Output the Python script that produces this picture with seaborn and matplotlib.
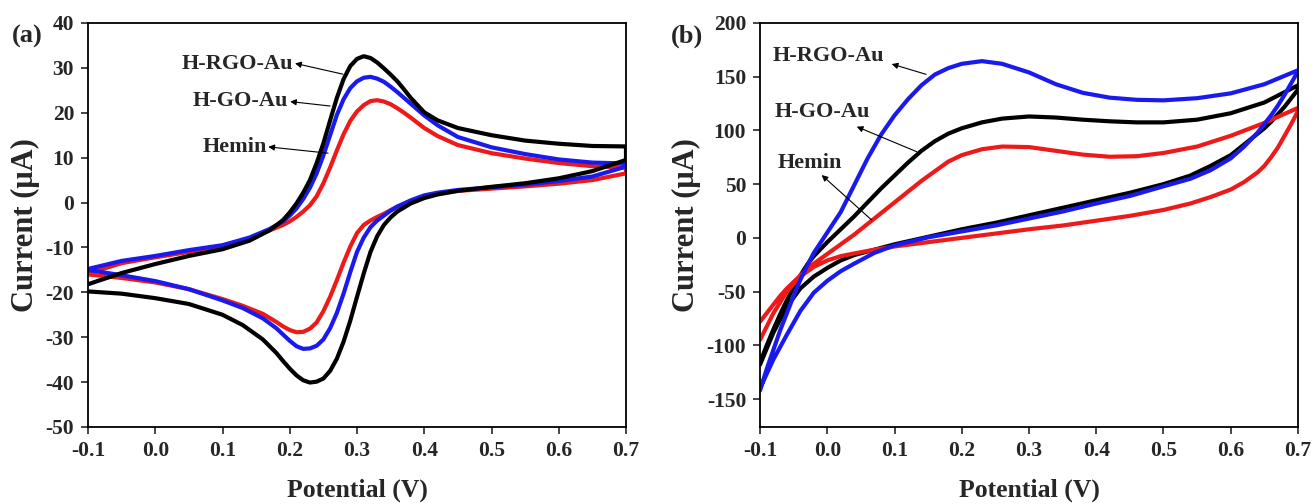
import matplotlib
matplotlib.use("Agg")
import matplotlib.pyplot as plt
import seaborn as sns
import pandas as pd

# ---- panel (a): CV of the probe, forward (anodic) and reverse scans ----
a_fwd_pot = [-0.10, -0.05, 0.00, 0.05, 0.10, 0.14, 0.17, 0.19, 0.20, 0.21, 0.22, 0.23, 0.24, 0.25,
             0.26, 0.27, 0.28, 0.29, 0.30, 0.31, 0.32, 0.33, 0.34, 0.35, 0.36, 0.37, 0.38, 0.40,
             0.42, 0.45, 0.50, 0.55, 0.60, 0.65, 0.70]
a_fwd_rgo = [-18.2, -15.7, -13.7, -11.9, -10.4, -8.5, -6.2, -3.9, -2.2, -0.2, 2.2, 5.0, 8.8, 13.2,
             18.3, 23.3, 27.5, 30.4, 32.0, 32.6, 32.2, 31.2, 29.9, 28.5, 27.0, 25.2, 23.3, 20.1,
             18.3, 16.6, 15.0, 13.8, 13.1, 12.6, 12.5]
a_fwd_go = [-14.8, -13.0, -11.9, -10.6, -9.5, -7.8, -5.9, -4.2, -2.9, -1.3, 0.8, 3.3, 6.5, 10.5,
            15.0, 19.5, 23.0, 25.5, 27.0, 27.8, 28.0, 27.6, 26.9, 25.8, 24.6, 23.3, 22.0, 19.4,
            17.2, 14.6, 12.3, 10.8, 9.6, 8.9, 8.7]
a_fwd_hemin = [-15.8, -13.5, -12.2, -11.0, -10.0, -8.0, -6.2, -5.0, -4.2, -3.2, -2.0, -0.6, 1.4, 4.3,
               7.8, 11.6, 15.2, 18.2, 20.3, 21.7, 22.6, 22.8, 22.5, 21.9, 21.0, 20.0, 18.9, 16.6,
               14.8, 12.8, 11.0, 9.8, 8.8, 8.1, 7.8]

a_rev_pot = [0.70, 0.65, 0.60, 0.55, 0.50, 0.45, 0.42, 0.40, 0.38, 0.36, 0.35, 0.34, 0.33, 0.32,
             0.31, 0.30, 0.29, 0.28, 0.27, 0.26, 0.25, 0.24, 0.23, 0.22, 0.21, 0.20, 0.19, 0.18,
             0.16, 0.13, 0.10, 0.05, 0.00, -0.05, -0.10]
a_rev_rgo = [9.5, 7.0, 5.4, 4.3, 3.5, 2.6, 1.8, 1.0, -0.2, -2.0, -3.3, -5.0, -7.5, -11.0,
             -15.8, -21.0, -26.3, -31.0, -34.8, -37.5, -39.2, -39.9, -40.1, -39.6, -38.5, -37.0, -35.3, -33.5,
             -30.5, -27.3, -25.0, -22.6, -21.3, -20.3, -19.8]
a_rev_go = [8.0, 5.8, 4.8, 4.0, 3.4, 2.8, 2.2, 1.6, 0.5, -0.9, -1.8, -2.9, -4.0, -5.5,
            -7.8, -11.0, -15.5, -20.3, -24.6, -28.0, -30.5, -31.9, -32.5, -32.6, -32.0, -30.8, -29.4, -28.0,
            -25.8, -23.5, -21.8, -19.3, -17.5, -16.2, -15.0]
a_rev_hemin = [6.5, 5.0, 4.2, 3.6, 3.1, 2.6, 2.0, 1.4, 0.3, -0.9, -1.7, -2.5, -3.2, -4.0,
               -5.0, -6.8, -9.8, -13.4, -17.3, -21.0, -24.2, -26.7, -28.1, -28.8, -28.9, -28.4, -27.6, -26.6,
               -24.8, -23.0, -21.5, -19.3, -17.8, -16.8, -16.0]

# ---- panel (b) ----
b_fwd_pot = [-0.10, -0.09, -0.08, -0.07, -0.06, -0.05, -0.04, -0.03, -0.02, 0.00, 0.02, 0.04,
             0.06, 0.08, 0.10, 0.12, 0.14, 0.16, 0.18, 0.20, 0.23, 0.26, 0.30, 0.34, 0.38, 0.42,
             0.46, 0.50, 0.55, 0.60, 0.65, 0.70]
b_fwd_rgo = [-142, -122, -104, -86, -70, -54, -39, -26, -14, 5, 24, 49,
             74, 96, 114, 129, 142, 152, 158, 162, 164.5, 162, 154, 143, 135, 130.5,
             128.5, 128, 130, 134.5, 143, 156]
b_fwd_go = [-116, -100, -85, -71, -58, -46, -35, -25, -17, -4, 8, 20,
            33, 46, 58, 70, 81, 90, 97, 102, 107.5, 111, 113, 112, 110, 108.5,
            107.5, 107.5, 110, 116, 126, 142]
b_fwd_hemin = [-78, -70, -62, -54, -47, -41, -35, -29, -24, -15, -6, 3,
               13, 23, 33, 43, 53, 62, 71, 77, 82.5, 85, 84.5, 81, 77.5, 75.5,
               76, 79, 85, 95, 107, 121]

b_rev_pot = [0.70, 0.69, 0.68, 0.67, 0.66, 0.65, 0.64, 0.62, 0.60, 0.57, 0.54, 0.50, 0.45, 0.40,
             0.35, 0.30, 0.25, 0.20, 0.15, 0.10, 0.07, 0.04, 0.02, 0.00, -0.02, -0.04, -0.06, -0.08, -0.10]
b_rev_rgo = [155, 144, 133, 123, 114, 106, 98, 85, 74, 63, 55, 48, 39, 32,
             24.5, 18, 11.5, 6, 0.5, -7, -14, -24, -31, -40, -51, -68, -90, -113, -140]
b_rev_go = [138, 130, 122, 115, 108, 102, 97, 87, 77, 67, 58, 50, 42, 35,
            28, 21, 14, 8, 1, -6, -11, -16, -21, -28, -36, -47, -64, -88, -118]
b_rev_hemin = [118, 106, 95, 84, 75, 67, 61, 52, 45, 38, 32, 26, 20.5, 16,
               11.5, 8, 4, 0, -4, -8, -11, -14.5, -17, -21, -27, -36, -50, -70, -95]

colors_a = {"H-RGO-Au": "black", "H-GO-Au": "#1a1aee", "Hemin": "#ee1a1a"}
colors_b = {"H-RGO-Au": "#1a1aee", "H-GO-Au": "black", "Hemin": "#ee1a1a"}


def loop_frame(fwd_pot, rev_pot, curves):
    rows = []
    for name, (fwd, rev) in curves.items():
        for p, c in zip(fwd_pot + rev_pot, fwd + rev):
            rows.append({"Potential": p, "Current": c, "sample": name})
    return pd.DataFrame(rows)


df_a = loop_frame(a_fwd_pot, a_rev_pot, {
    "Hemin": (a_fwd_hemin, a_rev_hemin),
    "H-GO-Au": (a_fwd_go, a_rev_go),
    "H-RGO-Au": (a_fwd_rgo, a_rev_rgo),
})
df_b = loop_frame(b_fwd_pot, b_rev_pot, {
    "H-GO-Au": (b_fwd_go, b_rev_go),
    "Hemin": (b_fwd_hemin, b_rev_hemin),
    "H-RGO-Au": (b_fwd_rgo, b_rev_rgo),
})

sns.set_style("ticks")
plt.rcParams["font.family"] = ["Liberation Serif", "DejaVu Serif"]
plt.rcParams["font.weight"] = "bold"
plt.rcParams["axes.unicode_minus"] = False

fig = plt.figure(figsize=(13.14, 5.04), dpi=100)
ax_a = fig.add_axes([0.0670, 0.1528, 0.4094, 0.8016])
ax_b = fig.add_axes([0.5784, 0.1528, 0.4094, 0.8016])

line_kw = dict(sort=False, estimator=None, lw=3.0, legend=False,
               solid_joinstyle="round", solid_capstyle="round")
sns.lineplot(data=df_a, x="Potential", y="Current", hue="sample", palette=colors_a, ax=ax_a, **line_kw)
sns.lineplot(data=df_b, x="Potential", y="Current", hue="sample", palette=colors_b, ax=ax_b, **line_kw)

ax_a.set_ylim(-50, 40)
ax_a.set_yticks(range(-50, 41, 10))
ax_b.set_ylim(-176, 200)
ax_b.set_yticks(range(-150, 201, 50))

xt = [-0.1, 0.0, 0.1, 0.2, 0.3, 0.4, 0.5, 0.6, 0.7]
for ax in (ax_a, ax_b):
    ax.set_xlim(-0.1, 0.7)
    ax.set_xticks(xt)
    ax.set_xticklabels([f"{v:.1f}" for v in xt])
    ax.tick_params(direction="out", length=5, width=1.2, labelsize=15.5, pad=5)
    for s in ax.spines.values():
        s.set_linewidth(1.3)
        s.set_color("black")
    ax.set_xlabel("Potential (V)", fontsize=18.5, fontweight="bold", labelpad=13)
    ax.set_ylabel("Current (\u03bcA)", fontsize=22, fontweight="bold", labelpad=4)

fig.text(0.021, 0.928, "(a)", fontsize=19, fontweight="bold", ha="center", va="center")
fig.text(0.5225, 0.928, "(b)", fontsize=19, fontweight="bold", ha="center", va="center")

arrow = dict(arrowstyle="-|>", lw=0.8, color="black", mutation_scale=9, shrinkA=0, shrinkB=0)

# panel (a) labels: text right-aligned, arrow from curve back to the text
labels_a = [("H-RGO-Au", (0.2048, 30.9), (0.279, 28.6), (0.2078, 31.0)),
            ("H-GO-Au", (0.1974, 22.7), (0.260, 21.5), (0.2004, 22.5)),
            ("Hemin", (0.166, 12.3), (0.257, 11.0), (0.168, 12.4))]
for name, txt, tail, head in labels_a:
    ax_a.text(txt[0], txt[1], name, fontsize=16, fontweight="bold", ha="right", va="center")
    ax_a.annotate("", xy=head, xytext=tail, arrowprops=arrow)

labels_b = [("H-RGO-Au", (-0.0807, 169.7), (0.147, 152.2), (0.0958, 161.8)),
            ("H-GO-Au", (-0.0777, 116.7), (0.133, 80.2), (0.0438, 103.5)),
            ("Hemin", (-0.0732, 70.1), (0.066, 16.6), (-0.0083, 58.5))]
for name, txt, tail, head in labels_b:
    ax_b.text(txt[0], txt[1], name, fontsize=16, fontweight="bold", ha="left", va="center")
    ax_b.annotate("", xy=head, xytext=tail, arrowprops=arrow)

fig.savefig("out.png", dpi=100)
